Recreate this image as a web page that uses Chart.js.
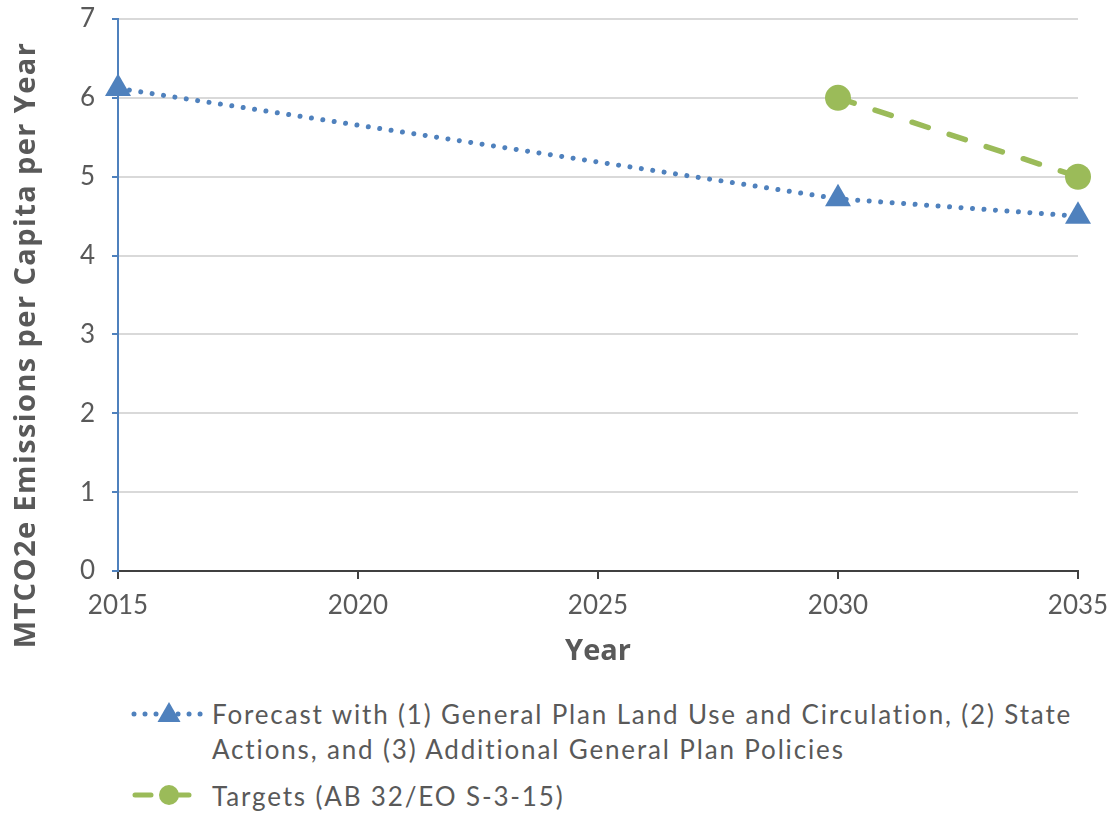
<!DOCTYPE html>
<html>
<head>
<meta charset="utf-8">
<script src="https://cdn.jsdelivr.net/npm/chart.js@4.4.1/dist/chart.umd.min.js"></script>
<style>
  html, body { margin: 0; padding: 0; background: #fff; }
  body { width: 1116px; height: 813px; position: relative; overflow: hidden; font-family: Lato, "Open Sans", sans-serif; }
  #wrap { position: absolute; left: 0; top: 0; width: 1116px; height: 680px; }
  #legend { position: absolute; left: 130px; top: 697px; width: 975px; color: #595959; font-size: 26px; line-height: 35px; letter-spacing: 1.85px; }
  .item { position: relative; padding-left: 82px; }
  .item svg { position: absolute; left: 0; top: 1px; }
  .item + .item { margin-top: 12px; }
</style>
</head>
<body>
<div id="wrap"><canvas id="chart"></canvas></div>
<div id="legend">
  <div class="item">
    <svg width="80" height="30" viewBox="0 0 80 30">
      <line x1="4" y1="16" x2="76" y2="16" stroke="#4f81bd" stroke-width="5" stroke-linecap="round" stroke-dasharray="0.01 11"/>
      <polygon points="39,4 50.5,24 27.5,24" fill="#4f81bd"/>
    </svg>
    <span id="lab0"></span>
  </div>
  <div class="item">
    <svg width="80" height="30" viewBox="0 0 80 30">
      <line x1="5" y1="15" x2="75" y2="15" stroke="#9bbb59" stroke-width="5" stroke-linecap="round" stroke-dasharray="16 22"/>
      <circle cx="39" cy="15" r="10" fill="#9bbb59"/>
    </svg>
    <span id="lab1"></span>
  </div>
</div>
<script>
// Per-capita emissions (MTCO2e per person per year)
const forecastYears = [2015, 2030, 2035];
const forecastValues = [6.12, 4.72, 4.5];
const targetYears = [2030, 2035];
const targetValues = [6, 5];
// Axis ticks
const xTicks = [2015, 2020, 2025, 2030, 2035];
const yTicks = [0, 1, 2, 3, 4, 5, 6, 7];

const seriesNames = [
  'Forecast with (1) General Plan Land Use and Circulation, (2) State Actions, and (3) Additional General Plan Policies',
  'Targets (AB 32/EO S-3-15)'
];
const yTitle = 'MTCO2e Emissions per Capita per Year';
document.getElementById('lab0').textContent = seriesNames[0];
document.getElementById('lab1').textContent = seriesNames[1];

const BLUE = '#4f81bd';
const GREEN = '#9bbb59';
const TEXT = '#595959';
const FONT = 'Lato, "Open Sans", sans-serif';
const TITLE_FONT = '"Open Sans", Lato, sans-serif';

const toPoints = (xs, ys) => xs.map((x, i) => ({ x: x, y: ys[i] }));

// Rotated, letter-spaced title for the value axis
const valueAxisTitle = {
  id: 'valueAxisTitle',
  afterDraw(chart) {
    const ctx = chart.ctx;
    ctx.save();
    ctx.translate(27, 345);
    ctx.rotate(-Math.PI / 2);
    ctx.font = 'bold 29px ' + TITLE_FONT;
    ctx.letterSpacing = '1.4px';
    ctx.fillStyle = TEXT;
    ctx.textAlign = 'center';
    ctx.textBaseline = 'middle';
    ctx.fillText(yTitle, 0, 0);
    ctx.restore();
  }
};

new Chart(document.getElementById('chart'), {
  type: 'line',
  data: {
    datasets: [
      {
        label: seriesNames[0],
        data: toPoints(forecastYears, forecastValues),
        borderColor: BLUE,
        backgroundColor: BLUE,
        borderWidth: 5,
        borderCapStyle: 'round',
        borderDash: [0.01, 11.5],
        pointStyle: 'triangle',
        pointRadius: 15,
        pointBorderWidth: 0,
        tension: 0,
        clip: false,
        order: 2
      },
      {
        label: seriesNames[1],
        data: toPoints(targetYears, targetValues),
        borderColor: GREEN,
        backgroundColor: GREEN,
        borderWidth: 5.5,
        borderCapStyle: 'round',
        borderDash: [17, 22],
        pointStyle: 'circle',
        pointRadius: 13,
        pointBorderWidth: 0,
        tension: 0,
        clip: false,
        order: 1
      }
    ]
  },
  plugins: [valueAxisTitle],
  options: {
    responsive: true,
    maintainAspectRatio: false,
    animation: false,
    events: [],
    layout: { padding: { left: 0, top: 19, right: 38, bottom: 0 } },
    plugins: { legend: { display: false }, tooltip: { enabled: false } },
    scales: {
      x: {
        type: 'linear',
        min: xTicks[0],
        max: xTicks[xTicks.length - 1],
        afterBuildTicks: (s) => { s.ticks = xTicks.map(v => ({ value: v })); },
        afterFit: (s) => { s.height = 109; s.paddingLeft = 0; s.paddingRight = 0; },
        border: { color: '#404040', width: 2 },
        grid: { drawOnChartArea: false, drawTicks: true, tickLength: 8, color: '#404040', lineWidth: 2 },
        ticks: {
          color: TEXT,
          font: { family: FONT, size: 26 },
          padding: 11,
          maxRotation: 0,
          callback: (v) => String(v)
        },
        title: {
          display: true,
          text: 'Year',
          color: TEXT,
          font: { family: TITLE_FONT, size: 29, weight: 'bold' },
          padding: { top: 4, bottom: 11 }
        }
      },
      y: {
        min: yTicks[0],
        max: yTicks[yTicks.length - 1],
        afterBuildTicks: (s) => { s.ticks = yTicks.map(v => ({ value: v })); },
        afterFit: (s) => { s.width = 118; s.paddingTop = 0; s.paddingBottom = 0; },
        border: { color: BLUE, width: 2 },
        grid: { color: '#d9d9d9', lineWidth: 2, drawTicks: true, tickLength: 6, tickColor: BLUE, tickWidth: 2 },
        ticks: {
          color: TEXT,
          font: { family: FONT, size: 26 },
          padding: 17
        },
        title: { display: false }
      }
    }
  }
});
</script>
</body>
</html>
